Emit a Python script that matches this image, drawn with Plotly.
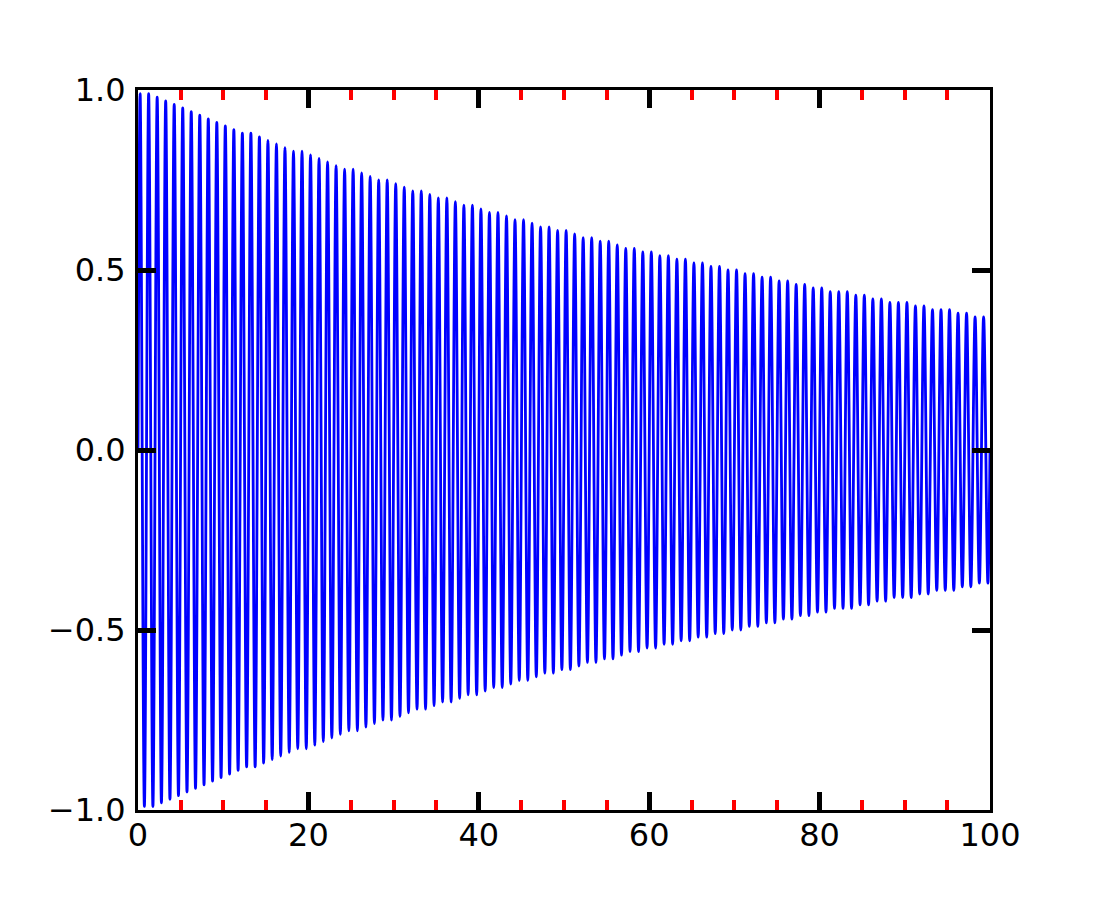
import plotly.graph_objects as go

# amplitude of each of the 100 cycles
amplitude = [
    0.99, 0.99, 0.98, 0.97, 0.96, 0.95, 0.94, 0.93, 0.92, 0.91,
    0.90, 0.89, 0.88, 0.88, 0.87, 0.86, 0.85, 0.84, 0.83, 0.83,
    0.82, 0.81, 0.80, 0.79, 0.78, 0.78, 0.77, 0.76, 0.75, 0.75,
    0.74, 0.73, 0.72, 0.72, 0.71, 0.70, 0.70, 0.69, 0.68, 0.68,
    0.67, 0.66, 0.66, 0.65, 0.64, 0.64, 0.63, 0.62, 0.62, 0.61,
    0.61, 0.60, 0.59, 0.59, 0.58, 0.58, 0.57, 0.56, 0.56, 0.55,
    0.55, 0.54, 0.54, 0.53, 0.53, 0.52, 0.52, 0.51, 0.51, 0.50,
    0.50, 0.49, 0.49, 0.48, 0.48, 0.47, 0.47, 0.46, 0.46, 0.45,
    0.45, 0.44, 0.44, 0.44, 0.43, 0.43, 0.42, 0.42, 0.41, 0.41,
    0.41, 0.40, 0.40, 0.39, 0.39, 0.39, 0.38, 0.38, 0.37, 0.37,
]
cycles = list(range(len(amplitude)))  # one cycle per time unit

xs = [0.0]
ys = [0.0]
for k, a in zip(cycles, amplitude):
    xs += [k + 0.25, k + 0.75]
    ys += [a, -a]
xs.append(100.0)
ys.append(0.0)

fig = go.Figure(go.Scatter(
    x=xs, y=ys, mode="lines",
    line=dict(color="#0000ff", width=2.8, shape="spline", smoothing=1),
    hoverinfo="skip",
))

axis_style = dict(
    showgrid=False, zeroline=False,
    showline=True, linecolor="black", linewidth=3, mirror="ticks",
    ticks="inside", ticklen=18, tickwidth=5, tickcolor="black",
    tickfont=dict(family="DejaVu Sans", size=32, color="black"),
)

fig.update_xaxes(range=[0, 100], dtick=20, ticklabelstandoff=-5,
                 minor=dict(dtick=5, ticks="inside", ticklen=10, tickwidth=4,
                            tickcolor="red", showgrid=False),
                 **axis_style)
fig.update_yaxes(range=[-1, 1], dtick=0.5, tickformat=".1f", ticklabelstandoff=3,
                 **axis_style)

# the page body adds 8px, so margins are trimmed to keep the plot area in place
fig.update_layout(
    width=1100, height=900,
    margin=dict(l=130, r=118, t=82, b=98),
    plot_bgcolor="white", paper_bgcolor="white",
    showlegend=False,
)

fig.write_html("out.html")
